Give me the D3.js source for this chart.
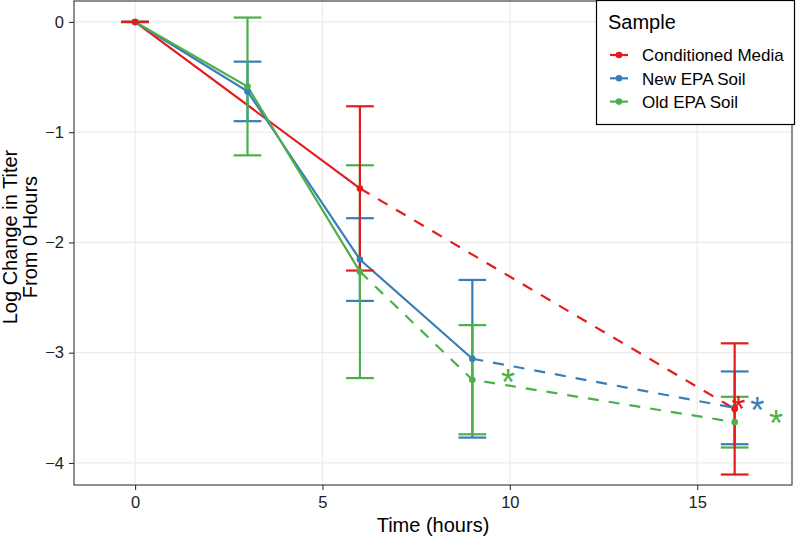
<!DOCTYPE html>
<html>
<head>
<meta charset="utf-8">
<script src="https://cdn.jsdelivr.net/npm/d3@7"></script>
<style>
  html, body { margin: 0; padding: 0; background: #fff; }
  svg { display: block; font-family: "Liberation Sans", Arial, sans-serif; }
</style>
</head>
<body>
<svg id="chart" width="796" height="538"></svg>
<script>
// ---- data ----
const seriesNames = ["Conditioned Media", "New EPA Soil", "Old EPA Soil"];
const seriesColors = ["#E41A1C", "#377EB8", "#4DAF4A"];

const cmTime = [0, 6, 16];
const cmMean = [0, -1.51, -3.51];
const cmErr  = [0, 0.745, 0.595];
const cmDashFrom = 6;

const newTime = [0, 3, 6, 9, 16];
const newMean = [0, -0.63, -2.155, -3.055, -3.50];
const newErr  = [0, 0.27, 0.375, 0.715, 0.33];
const newDashFrom = 9;

const oldTime = [0, 3, 6, 9, 16];
const oldMean = [0, -0.585, -2.265, -3.245, -3.63];
const oldErr  = [0, 0.625, 0.965, 0.495, 0.23];
const oldDashFrom = 6;

const starSeries = [0, 1, 2, 2];
const starX = [16.1, 16.6, 17.1, 9.95];
const starY = [-3.44, -3.45, -3.57, -3.19];

const xTicks = [0, 5, 10, 15];
const yTicks = [0, -1, -2, -3, -4];

const xTitle = "Time (hours)";
const yTitleLines = ["Log Change in Titer", "From 0 Hours"];
const legendTitle = "Sample";

// ---- build ----
const series = [
  { name: seriesNames[0], color: seriesColors[0], t: cmTime, m: cmMean, e: cmErr, dash: cmDashFrom },
  { name: seriesNames[1], color: seriesColors[1], t: newTime, m: newMean, e: newErr, dash: newDashFrom },
  { name: seriesNames[2], color: seriesColors[2], t: oldTime, m: oldMean, e: oldErr, dash: oldDashFrom }
].map(s => ({ ...s, pts: s.t.map((t, i) => ({ t, m: s.m[i], e: s.e[i] })) }));

const svg = d3.select("#chart");
const P = { left: 74, right: 792, top: 1, bottom: 485 };
const x = d3.scaleLinear().domain([-1.63, 17.53]).range([P.left, P.right]);
const y = d3.scaleLinear().domain([0.19, -4.2]).range([P.top, P.bottom]);

const LW = 2.2;

// grid
const grid = svg.append("g");
grid.selectAll("line.gx").data(xTicks).join("line")
  .attr("x1", d => x(d)).attr("x2", d => x(d))
  .attr("y1", P.top).attr("y2", P.bottom)
  .attr("stroke", "#ebebeb").attr("stroke-width", 1.2);
grid.selectAll("line.gy").data(yTicks).join("line")
  .attr("y1", d => y(d)).attr("y2", d => y(d))
  .attr("x1", P.left).attr("x2", P.right)
  .attr("stroke", "#ebebeb").attr("stroke-width", 1.2);

// lines
const lineGen = d3.line().x(d => x(d.t)).y(d => y(d.m));
series.forEach(s => {
  const solid = s.pts.filter(p => p.t <= s.dash);
  const dashed = s.pts.filter(p => p.t >= s.dash);
  svg.append("path").datum(solid).attr("d", lineGen)
    .attr("fill", "none").attr("stroke", s.color).attr("stroke-width", LW);
  svg.append("path").datum(dashed).attr("d", lineGen)
    .attr("fill", "none").attr("stroke", s.color).attr("stroke-width", LW)
    .attr("stroke-dasharray", "11,10");
});

// error bars & points: blue, green, red order
const order = [1, 2, 0];
const capHalf = x(0.37) - x(0);
order.forEach(i => {
  const s = series[i];
  const g = svg.append("g").attr("stroke", s.color).attr("stroke-width", LW);
  s.pts.forEach(p => {
    g.append("line").attr("x1", x(p.t)).attr("x2", x(p.t))
      .attr("y1", y(p.m + p.e)).attr("y2", y(p.m - p.e));
    [p.m + p.e, p.m - p.e].forEach(v => {
      g.append("line").attr("x1", x(p.t) - capHalf).attr("x2", x(p.t) + capHalf)
        .attr("y1", y(v)).attr("y2", y(v));
    });
  });
});
order.forEach(i => {
  const s = series[i];
  svg.append("g").selectAll("circle").data(s.pts).join("circle")
    .attr("cx", d => x(d.t)).attr("cy", d => y(d.m)).attr("r", 3.3)
    .attr("fill", s.color);
});

// asterisks
const STAR_FS = 36;
svg.append("g").selectAll("text").data(starX.map((v, i) => ({ x: v, y: starY[i], s: starSeries[i] })))
  .join("text")
  .attr("x", d => x(d.x)).attr("y", d => y(d.y) + STAR_FS * 0.58)
  .attr("text-anchor", "middle").attr("font-size", STAR_FS)
  .attr("fill", d => seriesColors[d.s]).text("*");

// panel border
svg.append("rect").attr("x", P.left).attr("y", P.top)
  .attr("width", P.right - P.left).attr("height", P.bottom - P.top)
  .attr("fill", "none").attr("stroke", "#333").attr("stroke-width", 1.1);

// axes
const xAxis = svg.append("g").attr("transform", `translate(0,${P.bottom})`)
  .call(d3.axisBottom(x).tickValues(xTicks).tickSize(5).tickPadding(6).tickFormat(d3.format("d")));
xAxis.select(".domain").remove();
xAxis.selectAll("line").attr("stroke", "#333").attr("stroke-width", 1.1);
xAxis.selectAll("text").attr("font-size", 16.5).attr("fill", "#222").attr("font-family", "Liberation Sans, Arial, sans-serif");

const yAxis = svg.append("g").attr("transform", `translate(${P.left},0)`)
  .call(d3.axisLeft(y).tickValues(yTicks).tickSize(5).tickPadding(5).tickFormat(d3.format("d")));
yAxis.select(".domain").remove();
yAxis.selectAll("line").attr("stroke", "#333").attr("stroke-width", 1.1);
yAxis.selectAll("text").attr("font-size", 16.5).attr("fill", "#222").attr("font-family", "Liberation Sans, Arial, sans-serif");

// axis titles
svg.append("text").attr("x", (P.left + P.right) / 2).attr("y", 532)
  .attr("text-anchor", "middle").attr("font-size", 20).attr("fill", "#000").text(xTitle);
const yt = svg.append("text").attr("transform", `translate(16.5,237) rotate(-90)`)
  .attr("text-anchor", "middle").attr("font-size", 20).attr("fill", "#000");
yTitleLines.forEach((l, i) => yt.append("tspan").attr("x", 0).attr("y", i * 20.5).text(l));

// legend
const L = svg.append("g");
L.append("rect").attr("x", 596.5).attr("y", 0.5).attr("width", 198).attr("height", 124)
  .attr("fill", "#fff").attr("stroke", "#000").attr("stroke-width", 1.2);
L.append("text").attr("x", 608).attr("y", 29).attr("font-size", 20).attr("fill", "#000").text(legendTitle);
series.forEach((s, i) => {
  const cy = 55 + i * 23.3;
  L.append("line").attr("x1", 610).attr("x2", 628).attr("y1", cy).attr("y2", cy)
    .attr("stroke", s.color).attr("stroke-width", LW);
  L.append("circle").attr("cx", 619).attr("cy", cy).attr("r", 3.3).attr("fill", s.color);
  L.append("text").attr("x", 642).attr("y", cy + 6.2).attr("font-size", 17).attr("fill", "#000").text(s.name);
});
</script>
</body>
</html>
